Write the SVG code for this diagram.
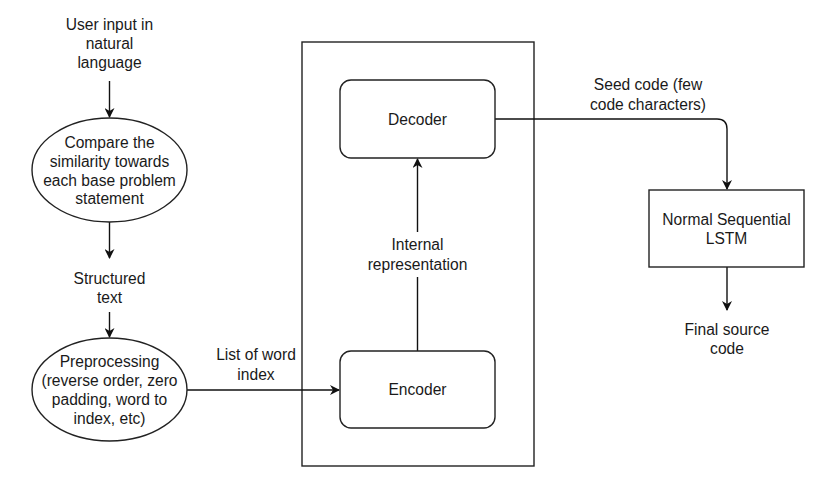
<svg xmlns="http://www.w3.org/2000/svg" width="839" height="494" viewBox="0 0 839 494">
<style>
text{font-family:"Liberation Sans",Arial,sans-serif;font-size:15.6px;fill:#1a1a1a;text-anchor:middle}
.shape{fill:#fff;stroke:#222;stroke-width:1.4}
.edge{fill:none;stroke:#111;stroke-width:1.4}
</style>
<defs>
<marker id="arr" viewBox="0 0 10 10" refX="9" refY="5" markerWidth="10" markerHeight="10" markerUnits="userSpaceOnUse" orient="auto">
<path d="M0,0 L10,5 L0,10 L3,5 Z" fill="#111"/>
</marker>
</defs>
<rect width="839" height="494" fill="#fff"/>
<g id="container"><rect class="shape" x="302" y="42" width="232" height="424"/></g>
<g id="connectors">
<line class="edge" x1="109.5" y1="81" x2="109.5" y2="117" marker-end="url(#arr)"/>
<line class="edge" x1="109.5" y1="222" x2="109.5" y2="258" marker-end="url(#arr)"/>
<line class="edge" x1="109.5" y1="312" x2="109.5" y2="337" marker-end="url(#arr)"/>
<line class="edge" x1="187" y1="390" x2="339" y2="390" marker-end="url(#arr)"/>
<line class="edge" x1="417.5" y1="351" x2="417.5" y2="159" marker-end="url(#arr)"/>
<path class="edge" d="M495,119 H717 Q727,119 727,129 V189" marker-end="url(#arr)"/>
<line class="edge" x1="727" y1="267" x2="727" y2="310" marker-end="url(#arr)"/>
</g>
<g id="label-input"><text x="109.5" y="30">User input in</text><text x="109.5" y="49">natural</text><text x="109.5" y="68">language</text></g>
<g id="compare"><ellipse class="shape" cx="109.5" cy="170" rx="77.5" ry="52"/>
<text x="109.5" y="148">Compare the</text><text x="109.5" y="167">similarity towards</text><text x="109.5" y="186">each base problem</text><text x="109.5" y="204">statement</text></g>
<g id="label-structured"><text x="109.5" y="284">Structured</text><text x="109.5" y="303">text</text></g>
<g id="preprocessing"><ellipse class="shape" cx="109.5" cy="389.5" rx="77.5" ry="51.5"/>
<text x="109.5" y="367">Preprocessing</text><text x="109.5" y="386">(reverse order, zero</text><text x="109.5" y="405">padding, word to</text><text x="109.5" y="424">index, etc)</text></g>
<g id="label-list"><text x="256" y="360">List of word</text><text x="256" y="380">index</text></g>
<g id="decoder"><rect class="shape" x="340" y="80" width="155" height="78" rx="11"/><text x="417.5" y="124.5">Decoder</text></g>
<g id="encoder"><rect class="shape" x="340" y="351" width="155" height="77" rx="11"/><text x="417.5" y="395">Encoder</text></g>
<g id="label-internal"><rect x="372" y="232" width="92" height="45" fill="#fff"/><text x="417.5" y="250">Internal</text><text x="417.5" y="270">representation</text></g>
<g id="label-seed"><text x="648" y="90">Seed code (few</text><text x="648" y="110">code characters)</text></g>
<g id="lstm"><rect class="shape" x="649" y="190" width="155" height="77"/><text x="726.5" y="225">Normal Sequential</text><text x="726.5" y="244">LSTM</text></g>
<g id="label-final"><text x="727" y="335">Final source</text><text x="727" y="354">code</text></g>
</svg>
